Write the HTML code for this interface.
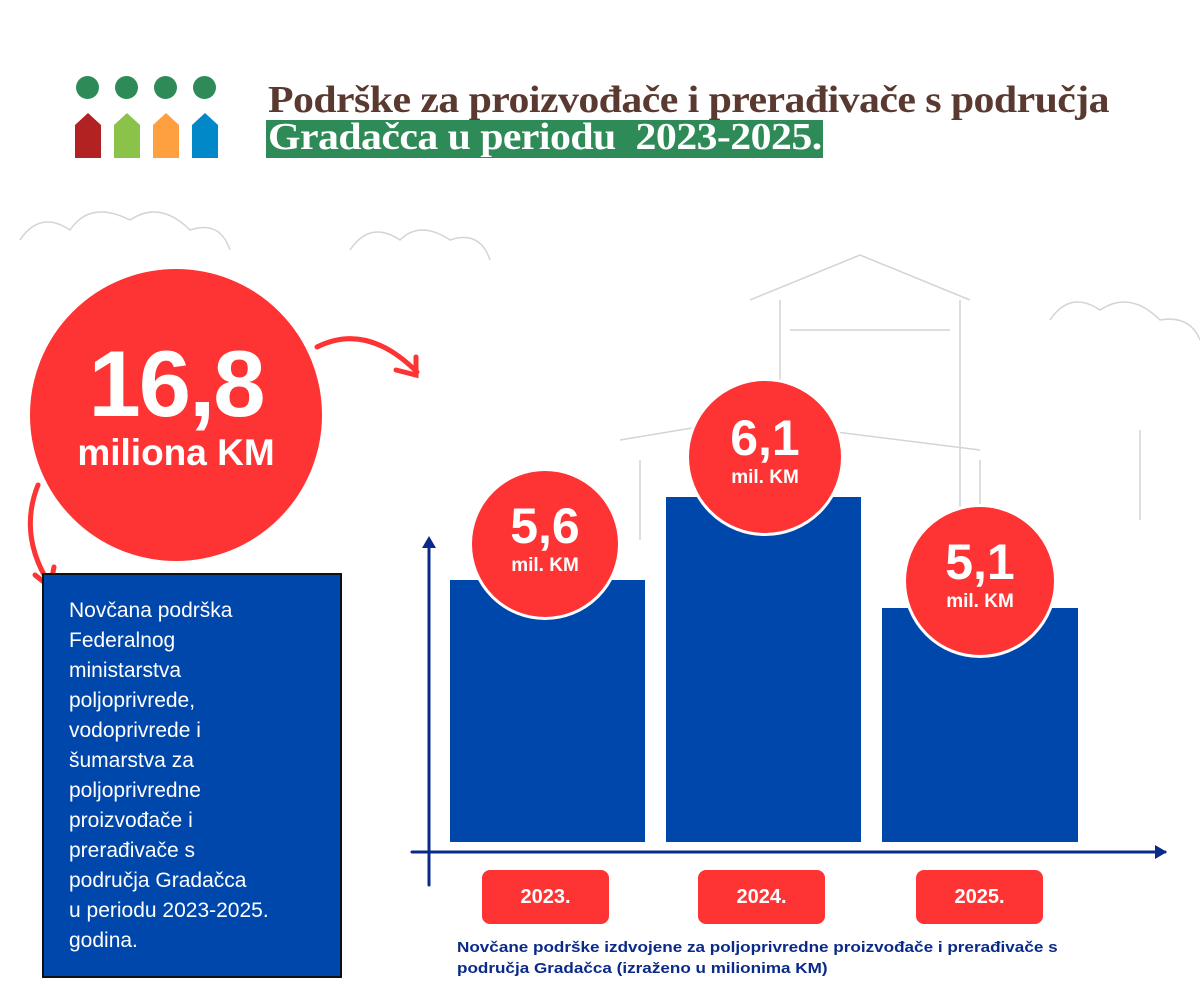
<!DOCTYPE html>
<html><head><meta charset="utf-8"><style>
body{margin:0;width:1200px;height:1000px;background:#fff;position:relative;overflow:hidden;font-family:"Liberation Sans",sans-serif}
.a{position:absolute}
.t{font-family:"Liberation Serif",serif;font-weight:bold;font-size:38px;letter-spacing:-0.5px;white-space:nowrap;transform:scaleX(1.1);transform-origin:0 0}
.bar{position:absolute;background:#0047ab}
.bub{position:absolute;border-radius:50%;background:#fe3333;border:3px solid #fff;box-sizing:border-box;color:#fff;text-align:center;font-weight:bold}
.yr{position:absolute;background:#fe3333;border-radius:8px;color:#fff;font-weight:bold;font-size:20px;text-align:center;line-height:54px;width:127px;height:54px;top:870px}
</style></head><body>
<svg class="a" style="left:0;top:0" width="1200" height="1000">
<g fill="none" stroke="#d4d4d4" stroke-width="1.5">
<path d="M20 240 q20-30 50-10 q20-30 60-10 q30-20 60 10 q30-10 40 20"/>
<path d="M350 250 q20-30 50-10 q20-20 50 0 q30-10 40 20"/>
<path d="M1050 320 q20-30 50-10 q30-20 60 10 q30-5 40 20"/>
<path d="M750 300 l110-45 l110 45 M780 300 v250 M960 300 v250 M790 330 h160 M620 440 l120-20 l240 30"/>
<path d="M640 460 v80 M980 460 v100 M1140 430 v90"/>
</g></svg>
<div class="a" style="left:76px;top:76px;width:23px;height:23px;border-radius:50%;background:#2e8b57"></div>
<div class="a" style="left:115px;top:76px;width:23px;height:23px;border-radius:50%;background:#2e8b57"></div>
<div class="a" style="left:154px;top:76px;width:23px;height:23px;border-radius:50%;background:#2e8b57"></div>
<div class="a" style="left:193px;top:76px;width:23px;height:23px;border-radius:50%;background:#2e8b57"></div>
<svg class="a" style="left:70px;top:110px" width="160" height="50">
<path d="M5 15 L18 3 L31 15 V48 H5Z" fill="#b22222"/><path d="M44 15 L57 3 L70 15 V48 H44Z" fill="#8bc34a"/>
<path d="M83 15 L96 3 L109 15 V48 H83Z" fill="#ffa040"/><path d="M122 15 L135 3 L148 15 V48 H122Z" fill="#0088c8"/></svg>
<div class="a t" style="left:268px;top:78px;color:#5a3a30">Podrške za proizvođače i prerađivače s područja</div>
<div class="a" style="left:266px;top:120px;width:557px;height:38px;background:#2e8b57"></div>
<div class="a t" style="left:268px;top:115px;color:#fff">Gradačca u periodu&nbsp; 2023-2025.</div>
<div class="bub" style="left:28px;top:267px;width:296px;height:296px;border-width:2px">
<div style="font-size:94px;line-height:94px;margin-top:68px;letter-spacing:-2px">16,8</div>
<div style="font-size:37px;line-height:40px;margin-top:2px">miliona KM</div></div>
<svg class="a" style="left:0;top:0" width="1200" height="1000" fill="none" stroke="#fe3333" stroke-width="5" stroke-linecap="round">
<path d="M317 347 q50-25 100 25"/><path d="M396 370 l20 5 l0-18"/>
<path d="M38 485 q-20 50 12 100"/><path d="M35 575 l15 12 l4-20"/>
<g stroke="#0a2a8a" stroke-width="3"><path d="M429 540 V885 M412 852 H1165"/></g>
<path d="M422 548 l7-12 l7 12Z M1155 845 l12 7 l-12 7Z" fill="#0a2a8a" stroke="none"/>
</svg>
<div class="a" style="left:42px;top:573px;width:296px;height:401px;background:#0047ab;border:2px solid #111"></div>
<div class="a" style="left:69px;top:596px;width:260px;color:#fff;font-size:21px;line-height:30px">Novčana podrška<br>Federalnog<br>ministarstva<br>poljoprivrede,<br>vodoprivrede i<br>šumarstva za<br>poljoprivredne<br>proizvođače i<br>prerađivače s<br>područja Gradačca<br>u periodu 2023-2025.<br>godina.</div>
<div class="bar" style="left:450px;top:580px;width:195px;height:262px"></div>
<div class="bar" style="left:666px;top:497px;width:195px;height:345px"></div>
<div class="bar" style="left:882px;top:608px;width:196px;height:234px"></div>
<div class="bub" style="left:469px;top:468px;width:152px;height:152px"><div style="font-size:50px;line-height:50px;margin-top:30px">5,6</div><div style="font-size:19px;margin-top:4px">mil. KM</div></div>
<div class="bub" style="left:686px;top:378px;width:158px;height:158px"><div style="font-size:50px;line-height:50px;margin-top:32px">6,1</div><div style="font-size:19px;margin-top:4px">mil. KM</div></div>
<div class="bub" style="left:903px;top:504px;width:154px;height:154px"><div style="font-size:50px;line-height:50px;margin-top:30px">5,1</div><div style="font-size:19px;margin-top:4px">mil. KM</div></div>
<div class="yr" style="left:482px">2023.</div>
<div class="yr" style="left:698px">2024.</div>
<div class="yr" style="left:916px">2025.</div>
<div class="a" style="left:457px;top:937px;color:#0a2a8a;font-weight:bold;font-size:15px;line-height:21px;white-space:nowrap;transform:scaleX(1.14);transform-origin:0 0">Novčane podrške izdvojene za poljoprivredne proizvođače i prerađivače s<br>područja Gradačca (izraženo u milionima KM)</div>
</body></html>
